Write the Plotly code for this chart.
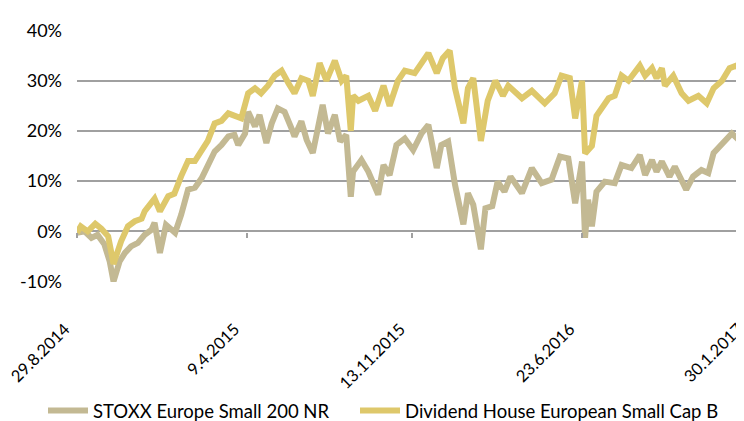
import plotly.graph_objects as go

# ---------------- data ----------------
stoxx_dates = ["2014-08-29","2014-09-08","2014-09-17","2014-09-25","2014-10-04","2014-10-11","2014-10-16","2014-10-24",
"2014-10-31","2014-11-08","2014-11-17","2014-11-26","2014-12-05","2014-12-09","2014-12-16","2014-12-24","2015-01-05",
"2015-01-13","2015-01-22","2015-01-31","2015-02-09","2015-02-17","2015-02-26","2015-03-07","2015-03-16","2015-03-24",
"2015-03-29","2015-04-07","2015-04-11","2015-04-20","2015-04-26","2015-05-05","2015-05-12","2015-05-20","2015-05-29",
"2015-06-07","2015-06-11","2015-06-20","2015-06-27","2015-07-05","2015-07-14","2015-07-18","2015-07-25","2015-08-03",
"2015-08-10","2015-08-18","2015-08-24","2015-08-27","2015-09-07","2015-09-16","2015-09-29","2015-10-06","2015-10-14",
"2015-10-23","2015-11-03","2015-11-14","2015-11-25","2015-12-04","2015-12-15","2015-12-21","2015-12-30","2016-01-08",
"2016-01-19","2016-01-25","2016-02-01","2016-02-11","2016-02-17","2016-02-26","2016-03-04","2016-03-13","2016-03-21",
"2016-04-05","2016-04-18","2016-05-01","2016-05-14","2016-05-25","2016-06-05","2016-06-14","2016-06-23","2016-06-27",
"2016-07-01","2016-07-06","2016-07-12","2016-07-23","2016-08-05","2016-08-14","2016-08-27","2016-09-07","2016-09-14",
"2016-09-23","2016-09-29","2016-10-06","2016-10-16","2016-10-23","2016-11-07","2016-11-16","2016-11-27","2016-12-06",
"2016-12-13","2016-12-24","2017-01-06","2017-01-15","2017-01-28","2017-01-30"]
stoxx_values = [-0.3,0.0,-1.3,-0.7,-2.6,-6.0,-10.0,-6.0,
-4.3,-3.0,-2.3,-0.7,0.3,1.7,-4.3,1.3,-0.3,
3.3,8.3,8.7,10.6,13.2,15.9,17.2,18.9,19.2,
17.2,19.5,23.8,20.9,23.2,17.6,21.5,24.5,23.8,
20.5,18.9,21.9,18.2,15.6,22.8,25.2,19.5,23.2,
17.9,19.2,6.9,11.9,14.2,11.9,7.3,13.2,11.2,
17.2,18.5,16.2,19.5,21.2,12.6,17.2,17.9,9.3,
1.4,7.6,5.3,-3.6,4.6,5.0,9.9,7.9,10.9,
7.6,12.6,9.6,10.3,14.9,14.5,5.6,13.9,-1.3,
6.3,1.0,7.9,9.9,9.6,13.2,12.6,15.2,11.2,
14.2,11.9,13.9,10.9,12.9,8.3,10.9,12.2,11.6,
15.6,17.2,19.5,18.2,20.5,19.0]

dh_dates = ["2014-08-29","2014-09-03","2014-09-12","2014-09-22","2014-09-30","2014-10-09","2014-10-16","2014-10-26",
"2014-11-04","2014-11-13","2014-11-22","2014-11-26","2014-12-09","2014-12-16","2014-12-27","2015-01-04","2015-01-13",
"2015-01-22","2015-01-31","2015-02-09","2015-02-17","2015-02-26","2015-03-07","2015-03-16","2015-03-24","2015-04-02",
"2015-04-11","2015-04-20","2015-04-28","2015-05-07","2015-05-16","2015-05-25","2015-06-03","2015-06-11","2015-06-20",
"2015-06-29","2015-07-05","2015-07-14","2015-07-23","2015-08-03","2015-08-12","2015-08-18","2015-08-24","2015-08-27",
"2015-09-03","2015-09-16","2015-09-25","2015-10-06","2015-10-14","2015-10-25","2015-11-03","2015-11-16","2015-11-25",
"2015-12-04","2015-12-15","2015-12-23","2016-01-01","2016-01-08","2016-01-19","2016-01-25","2016-02-01","2016-02-11",
"2016-02-20","2016-03-01","2016-03-11","2016-03-18","2016-04-05","2016-04-18","2016-05-05","2016-05-18","2016-05-27",
"2016-06-07","2016-06-14","2016-06-23","2016-06-27","2016-07-06","2016-07-12","2016-07-19","2016-07-28","2016-08-05",
"2016-08-14","2016-08-23","2016-09-07","2016-09-14","2016-09-23","2016-09-29","2016-10-06","2016-10-10","2016-10-21",
"2016-11-01","2016-11-10","2016-11-23","2016-12-04","2016-12-13","2016-12-24","2017-01-03","2017-01-12","2017-01-23",
"2017-01-30"]
dh_values = [-0.3,1.0,0.0,1.5,0.5,-1.0,-6.5,-2.0,
1.0,2.0,2.5,4.0,6.5,4.0,7.0,7.5,11.0,
14.0,14.0,16.0,18.0,21.5,22.0,23.5,23.0,22.5,
27.5,28.5,27.5,29.0,31.0,32.0,29.5,27.5,30.5,
30.0,27.0,33.5,30.0,34.0,30.0,31.0,20.0,27.0,
26.0,27.0,24.0,29.0,25.0,30.0,32.0,31.5,33.5,
35.5,31.5,34.5,36.0,28.5,21.5,28.5,30.5,18.0,
26.0,30.0,27.0,29.0,26.5,28.0,25.5,27.5,31.0,
30.5,22.5,30.0,15.5,17.0,23.0,24.5,26.5,27.0,
31.0,30.0,33.0,31.0,32.5,30.5,32.5,29.0,31.0,
27.5,26.0,27.0,25.5,28.5,30.0,32.5,33.0,31.0,
32.5]

series_names = ["STOXX Europe Small 200 NR", "Dividend House European Small Cap B"]
x_tick_dates = ["2014-08-29", "2015-04-09", "2015-11-13", "2016-06-23", "2017-01-30"]
x_tick_labels = ["29.8.2014", "9.4.2015", "13.11.2015", "23.6.2016", "30.1.2017"]
y_tick_values = [-10, 0, 10, 20, 30, 40]
y_tick_labels = ["-10%", "0%", "10%", "20%", "30%", "40%"]

# ---------------- styles ----------------
GREY = "#C3B993"
GOLD = "#DEC86B"
GRID = "#A0A0A0"
FONT = "Lato"
x_range = ["2014-08-29", "2017-02-01 12:00"]

fig = go.Figure()
fig.add_trace(go.Scatter(x=stoxx_dates, y=stoxx_values, mode="lines", name=series_names[0],
                         line=dict(color=GREY, width=6), legend="legend"))
fig.add_trace(go.Scatter(x=dh_dates, y=dh_values, mode="lines", name=series_names[1],
                         line=dict(color=GOLD, width=6), legend="legend2"))
# invisible helper trace so that the tick marks on the 0% line are drawn
fig.add_trace(go.Scatter(x=x_tick_dates, y=[0] * len(x_tick_dates), xaxis="x2", mode="markers",
                         marker=dict(opacity=0), showlegend=False, hoverinfo="skip"))

legend_common = dict(orientation="h", xref="container", yref="paper", xanchor="left",
                     y=-0.587, yanchor="bottom", font=dict(size=18.5), itemwidth=40,
                     bgcolor="rgba(0,0,0,0)")

fig.update_layout(
    width=744, height=421,
    margin=dict(l=69, r=0, t=22, b=147, autoexpand=False),
    paper_bgcolor="white", plot_bgcolor="white",
    font=dict(family=FONT, size=17, color="#000000"),
    showlegend=True,
    legend=dict(x=35 / 744, **legend_common),
    legend2=dict(x=347 / 744, **legend_common),
    xaxis=dict(type="date", range=x_range, tickmode="array", tickvals=x_tick_dates,
               ticktext=x_tick_labels, tickangle=-45, ticks="outside", ticklen=30,
               tickcolor="rgba(0,0,0,0)", showgrid=False, showline=False, zeroline=False,
               ticklabeloverflow="allow", ticklabelshift=-12, automargin=False,
               tickfont=dict(size=16.5)),
    xaxis2=dict(type="date", range=x_range, overlaying="x", anchor="free", position=0.2,
                tickmode="array", tickvals=x_tick_dates, ticks="outside", ticklen=5,
                tickcolor=GRID, tickwidth=1.5, showticklabels=False, showgrid=False,
                showline=False, zeroline=False, automargin=False),
    yaxis=dict(range=[-10.1, 40.1], tickmode="array", tickvals=y_tick_values, ticktext=y_tick_labels,
               showgrid=True, gridcolor=GRID, gridwidth=1.5, zeroline=True, zerolinecolor=GRID,
               zerolinewidth=1.5, showline=False, layer="below traces", automargin=False,
               ticks="", ticklabelstandoff=14, tickfont=dict(size=18)),
)

fig.write_html("out.html")
